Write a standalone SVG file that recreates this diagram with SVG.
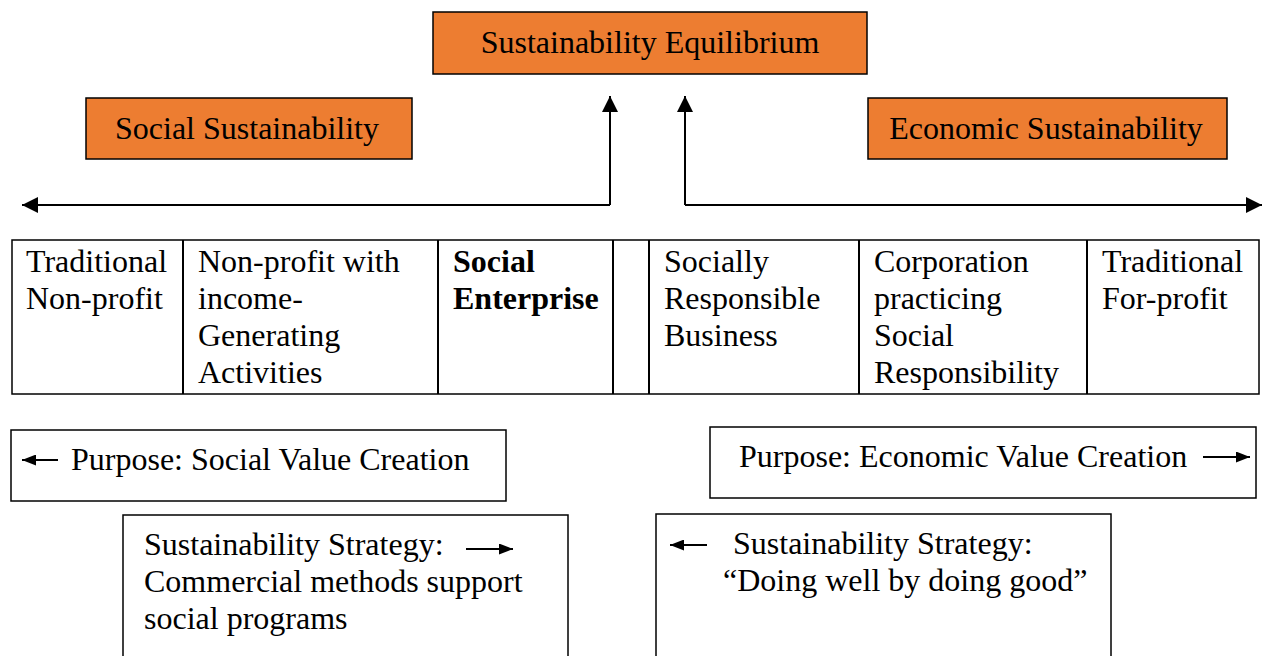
<svg xmlns="http://www.w3.org/2000/svg" width="1262" height="656" viewBox="0 0 1262 656">
<style>
text{font-family:"Liberation Serif","Times New Roman",serif;font-size:32px;fill:#000}
.b{font-weight:bold}
.orange{fill:#ED7D31;stroke:#000;stroke-width:1.5}
.box{fill:#fff;stroke:#000;stroke-width:1.5}
.ln{fill:none;stroke:#000;stroke-width:2}
.sa{fill:none;stroke:#000;stroke-width:2}
</style>
<defs>
<marker id="ah" markerWidth="16" markerHeight="16" viewBox="0 0 16 16" refX="16" refY="8" orient="auto" markerUnits="userSpaceOnUse">
<path d="M0,0 L16,8 L0,16 Z" fill="#000"/>
</marker>
<marker id="sh" markerWidth="14" markerHeight="11" viewBox="0 0 14 11" refX="14" refY="5.5" orient="auto" markerUnits="userSpaceOnUse">
<path d="M0,0 L14,5.5 L0,11 Z" fill="#000"/>
</marker>
</defs>

<g id="equilibrium">
<rect class="orange" x="433" y="12" width="434" height="62"/>
<text x="650" y="53" text-anchor="middle">Sustainability Equilibrium</text>
</g>
<g id="social-sustainability">
<rect class="orange" x="86" y="98" width="326" height="61"/>
<text x="247" y="139" text-anchor="middle">Social Sustainability</text>
</g>
<g id="economic-sustainability">
<rect class="orange" x="868" y="98" width="359" height="61"/>
<text x="1046" y="139" text-anchor="middle">Economic Sustainability</text>
</g>

<g id="connectors">
<path class="ln" d="M610,205 L610,96" marker-end="url(#ah)"/>
<path class="ln" d="M610,205 L22,205" marker-end="url(#ah)"/>
<path class="ln" d="M685,205 L685,96" marker-end="url(#ah)"/>
<path class="ln" d="M685,205 L1262,205" marker-end="url(#ah)"/>
</g>

<g id="spectrum-table">
<rect class="box" x="12" y="240" width="1247" height="154"/>
<path class="ln" d="M183,240V394M438,240V394M613,240V394M649,240V394M859,240V394M1087,240V394"/>
</g>
<g id="cell-traditional-nonprofit">
<text x="26" y="272">Traditional</text>
<text x="26" y="309">Non-profit</text>
</g>
<g id="cell-nonprofit-income">
<text x="198" y="272">Non-profit with</text>
<text x="198" y="309">income-</text>
<text x="198" y="346">Generating</text>
<text x="198" y="383">Activities</text>
</g>
<g id="cell-social-enterprise">
<text class="b" x="453" y="272">Social</text>
<text class="b" x="453" y="309">Enterprise</text>
</g>
<g id="cell-socially-responsible">
<text x="664" y="272">Socially</text>
<text x="664" y="309">Responsible</text>
<text x="664" y="346">Business</text>
</g>
<g id="cell-corporation">
<text x="874" y="272">Corporation</text>
<text x="874" y="309">practicing</text>
<text x="874" y="346">Social</text>
<text x="874" y="383">Responsibility</text>
</g>
<g id="cell-traditional-forprofit">
<text x="1102" y="272">Traditional</text>
<text x="1102" y="309">For-profit</text>
</g>

<g id="purpose-social">
<rect class="box" x="11" y="430" width="495" height="71"/>
<path class="sa" d="M58,460 L22,460" marker-end="url(#sh)"/>
<text x="71" y="470">Purpose: Social Value Creation</text>
</g>
<g id="purpose-economic">
<rect class="box" x="710" y="427" width="546" height="71"/>
<text x="739" y="467">Purpose: Economic Value Creation</text>
<path class="sa" d="M1203,457 L1250,457" marker-end="url(#sh)"/>
</g>
<g id="strategy-social">
<rect class="box" x="123" y="515" width="445" height="160"/>
<text x="144" y="555">Sustainability Strategy:</text>
<path class="sa" d="M466,549 L513,549" marker-end="url(#sh)"/>
<text x="144" y="592">Commercial methods support</text>
<text x="144" y="629">social programs</text>
</g>
<g id="strategy-economic">
<rect class="box" x="656" y="514" width="455" height="160"/>
<path class="sa" d="M707,545 L670,545" marker-end="url(#sh)"/>
<text x="733" y="554">Sustainability Strategy:</text>
<text x="723" y="591">“Doing well by doing good”</text>
</g>
</svg>
